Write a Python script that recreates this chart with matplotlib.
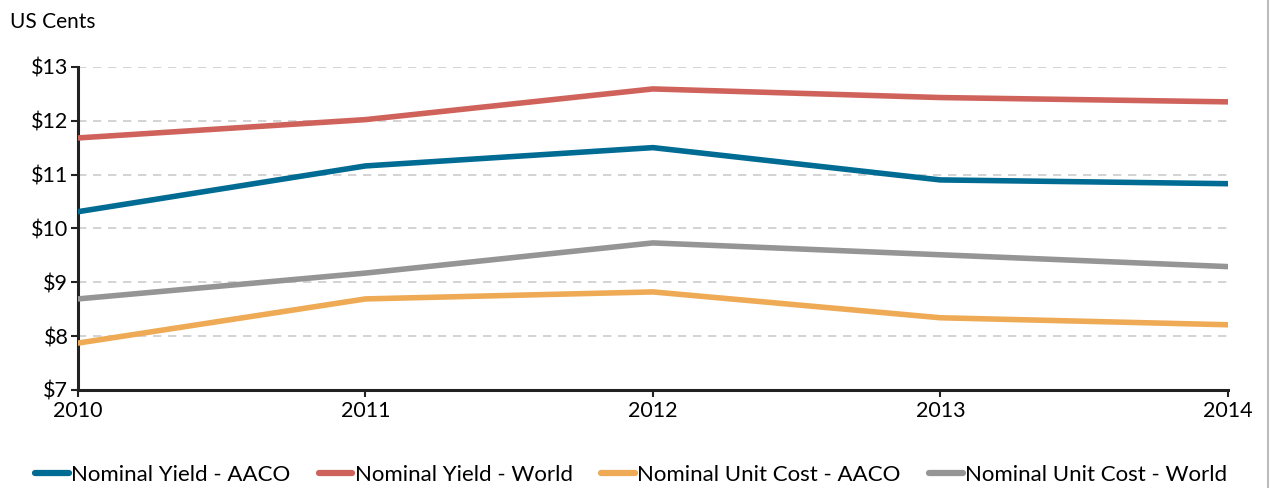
import matplotlib
matplotlib.use("Agg")
import matplotlib.pyplot as plt
from matplotlib.lines import Line2D

plt.rcParams['font.family'] = ['Lato', 'DejaVu Sans']

years = [2010, 2011, 2012, 2013, 2014]
yield_aaco = [10.31, 11.16, 11.50, 10.90, 10.83]
yield_world = [11.68, 12.02, 12.59, 12.43, 12.35]
cost_aaco = [7.87, 8.69, 8.82, 8.34, 8.21]
cost_world = [8.69, 9.17, 9.73, 9.51, 9.29]

series = [
    ("Nominal Yield - AACO", yield_aaco, "#006B93"),
    ("Nominal Yield - World", yield_world, "#CF625B"),
    ("Nominal Unit Cost - AACO", cost_aaco, "#EEAA55"),
    ("Nominal Unit Cost - World", cost_world, "#959595"),
]
yticks = [7, 8, 9, 10, 11, 12, 13]

fig = plt.figure(figsize=(12.71, 4.88), dpi=100)
ax = fig.add_axes([0.0614, 0.201, 0.9046, 0.662])

for name, vals, col in series:
    ax.plot(years, vals, color=col, lw=4.0, solid_capstyle='round', label=name, zorder=3)

ax.set_xlim(2010, 2014)
ax.set_ylim(7, 13)
ax.set_xticks(years)
ax.set_xticklabels([str(y) for y in years])
ax.set_yticks(yticks)
ax.set_yticklabels(["$%d" % v for v in yticks])
ax.yaxis.grid(True, color="#CCCCCC", ls=(0, (5, 4)), lw=1.2)
ax.set_axisbelow(True)
for s in ["top", "right"]:
    ax.spines[s].set_visible(False)
for s in ["left", "bottom"]:
    ax.spines[s].set_color("#222222")
    ax.spines[s].set_linewidth(2.2)
ax.tick_params(axis='both', colors="#222222", width=1.5, length=5, labelsize=15.5, labelcolor="black")
ax.tick_params(axis='x', pad=3)
ax.tick_params(axis='y', pad=2)

fig.text(0.008, 0.975, "US Cents", fontsize=15, va='top', ha='left')

leg = fig.legend(loc='lower left', bbox_to_anchor=(0.012, -0.035), ncol=4, frameon=False,
                 fontsize=16, handlelength=1.5, handletextpad=0.1, columnspacing=1.3)
for h in leg.get_lines():
    h.set_linewidth(4.5)

fig.add_artist(Line2D([0.9975, 0.9975], [0, 1], transform=fig.transFigure, color="#BBBBBB", lw=1.5))

fig.savefig("out.png", dpi=100)
